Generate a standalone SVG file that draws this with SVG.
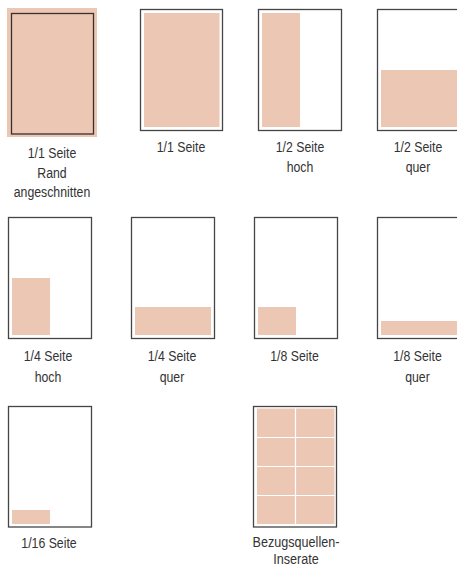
<svg xmlns="http://www.w3.org/2000/svg" width="457" height="568" viewBox="0 0 457 568">
<style>
.pg{fill:#fff;stroke:#454545;stroke-width:1.3}
.ad{fill:#ecc7b4}
.lbl{font-family:"Liberation Sans",Arial,sans-serif;font-size:15px;fill:#333;text-anchor:middle}
.gl{stroke:#fff;stroke-width:1.2}
</style>
<rect width="457" height="568" fill="#fff"/>
<g id="n1">
<rect class="ad" x="7" y="8" width="90" height="129"/>
<rect x="11.5" y="13.5" width="82" height="120.5" fill="none" stroke="#3a3030" stroke-width="1.3"/>
<text class="lbl" transform="translate(52 158) scale(0.82 1)">1/1 Seite</text>
<text class="lbl" transform="translate(52 177.5) scale(0.82 1)">Rand</text>
<text class="lbl" transform="translate(52 197) scale(0.82 1)">angeschnitten</text>
</g>
<g id="n2">
<rect class="pg" x="140.5" y="9.5" width="82" height="121"/>
<rect class="ad" x="144" y="13" width="75.5" height="114"/>
<text class="lbl" transform="translate(181 152) scale(0.82 1)">1/1 Seite</text>
</g>
<g id="n3">
<rect class="pg" x="258.5" y="9.5" width="83" height="121"/>
<rect class="ad" x="262" y="13" width="38" height="114"/>
<text class="lbl" transform="translate(300 152) scale(0.82 1)">1/2 Seite</text>
<text class="lbl" transform="translate(300 172) scale(0.82 1)">hoch</text>
</g>
<g id="n4">
<rect class="pg" x="377.5" y="9.5" width="83" height="121"/>
<rect class="ad" x="381" y="70" width="80" height="57"/>
<text class="lbl" transform="translate(418 152) scale(0.82 1)">1/2 Seite</text>
<text class="lbl" transform="translate(418 172) scale(0.82 1)">quer</text>
</g>
<g id="n5">
<rect class="pg" x="8.5" y="217.5" width="83" height="121"/>
<rect class="ad" x="12" y="278" width="38" height="57"/>
<text class="lbl" transform="translate(48 361) scale(0.82 1)">1/4 Seite</text>
<text class="lbl" transform="translate(48 381.5) scale(0.82 1)">hoch</text>
</g>
<g id="n6">
<rect class="pg" x="131.5" y="217.5" width="83" height="121"/>
<rect class="ad" x="135" y="307" width="76" height="28"/>
<text class="lbl" transform="translate(172 361) scale(0.82 1)">1/4 Seite</text>
<text class="lbl" transform="translate(172 381.5) scale(0.82 1)">quer</text>
</g>
<g id="n7">
<rect class="pg" x="254.5" y="217.5" width="83" height="121"/>
<rect class="ad" x="258" y="307" width="38" height="28"/>
<text class="lbl" transform="translate(294.5 361) scale(0.82 1)">1/8 Seite</text>
</g>
<g id="n8">
<rect class="pg" x="377.5" y="217.5" width="83" height="121"/>
<rect class="ad" x="381" y="321" width="80" height="14"/>
<text class="lbl" transform="translate(417.5 361) scale(0.82 1)">1/8 Seite</text>
<text class="lbl" transform="translate(417.5 381.5) scale(0.82 1)">quer</text>
</g>
<g id="n9">
<rect class="pg" x="8.5" y="406.5" width="83" height="120.5"/>
<rect class="ad" x="12" y="510" width="38" height="14"/>
<text class="lbl" transform="translate(49 548) scale(0.82 1)">1/16 Seite</text>
</g>
<g id="n10">
<rect class="pg" x="253.5" y="406.5" width="83" height="120.5"/>
<rect class="ad" x="257" y="408.5" width="77.5" height="115.5"/>
<line class="gl" x1="295.5" y1="408" x2="295.5" y2="524"/>
<line class="gl" x1="257" y1="437.5" x2="334.5" y2="437.5"/>
<line class="gl" x1="257" y1="466.5" x2="334.5" y2="466.5"/>
<line class="gl" x1="257" y1="495.5" x2="334.5" y2="495.5"/>
<text class="lbl" transform="translate(296 547) scale(0.84 1)">Bezugsquellen-</text>
<text class="lbl" transform="translate(296 564) scale(0.84 1)">Inserate</text>
</g>
<g id="connectors"/>
</svg>
